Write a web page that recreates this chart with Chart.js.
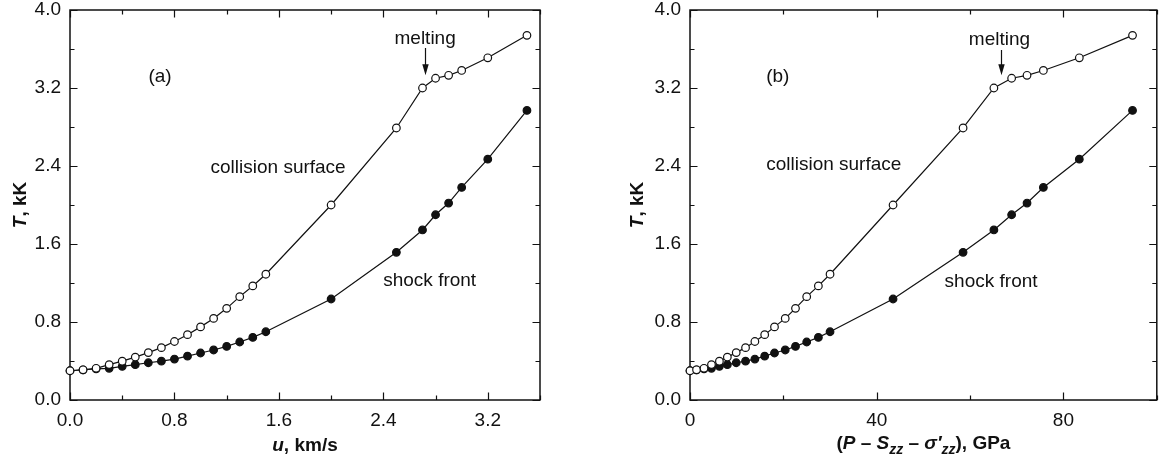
<!DOCTYPE html>
<html>
<head>
<meta charset="utf-8">
<script src="https://cdn.jsdelivr.net/npm/chart.js@4.4.1/dist/chart.umd.min.js"></script>
<style>
  html, body { margin: 0; padding: 0; background: #fff; }
  #wrap { width: 1162px; height: 465px; display: flex; }
  canvas { display: block; }
</style>
</head>
<body>
<div id="wrap">
  <canvas id="panelA" width="581" height="465"></canvas>
  <canvas id="panelB" width="581" height="465"></canvas>
</div>
<script>
/* ── data ── */

// particle velocity, km/s
const uVelocity = [0, 0.1, 0.2, 0.3, 0.4, 0.5, 0.6, 0.7, 0.8, 0.9, 1.0, 1.1, 1.2, 1.3, 1.4, 1.5,
                   2.0, 2.5, 2.7, 2.8, 2.9, 3.0, 3.2, 3.5];
// P - Szz - σ'zz, GPa
const stressGPa = [0, 1.4, 3.0, 4.6, 6.3, 8.0, 9.9, 11.9, 13.9, 16.0, 18.1, 20.4, 22.6, 25.0, 27.5, 30.0,
                   43.5, 58.5, 65.1, 68.9, 72.2, 75.7, 83.4, 94.8];
// temperature, kK
const tCollision = [0.30, 0.31, 0.325, 0.363, 0.398, 0.44, 0.486, 0.537, 0.60, 0.67, 0.75, 0.837, 0.94, 1.06, 1.17, 1.29,
                    2.00, 2.79, 3.20, 3.30, 3.33, 3.38, 3.51, 3.74];
const tShock     = [0.30, 0.31, 0.32, 0.325, 0.345, 0.362, 0.382, 0.398, 0.42, 0.45, 0.482, 0.513, 0.55, 0.595, 0.642, 0.70,
                    1.036, 1.515, 1.744, 1.90, 2.02, 2.18, 2.47, 2.97];

// labelled tick values
const tTickLabels = [0, 0.8, 1.6, 2.4, 3.2, 4.0];
const uTickLabels = [0, 0.8, 1.6, 2.4, 3.2];
const pTickLabels = [0, 40, 80];

/* ── helpers ── */

const FONT = '"Liberation Sans", Arial, Helvetica, sans-serif';
const INK  = '#111';
const TEXT_SIZE = 19;

const onList = (v, list) => list.some(t => Math.abs(t - v) < 1e-6);

// draws a run of bold text pieces (italic / subscript allowed), centred on 0,0
function drawRich(ctx, parts, size) {
    let w = 0;
    const items = parts.map(p => {
        const fs   = p.sub ? Math.round(size * 0.72) : size;
        const font = `${p.italic ? 'italic ' : ''}bold ${fs}px ${FONT}`;
        ctx.font = font;
        const it = { t: p.t, font, x: w, dy: p.sub ? size * 0.3 : 0 };
        w += ctx.measureText(p.t).width;
        return it;
    });
    ctx.textAlign = 'left';
    ctx.textBaseline = 'middle';
    items.forEach(it => { ctx.font = it.font; ctx.fillText(it.t, it.x - w / 2, it.dy); });
}

/* ── box frame, inward ticks, axis titles, notes ── */

const figureDecor = {
    id: 'figureDecor',
    beforeDatasetsDraw(chart, args, o) {
        const { ctx, chartArea: a, scales: { x, y } } = chart;
        ctx.save();
        ctx.strokeStyle = INK;
        ctx.lineWidth = 1.5;
        ctx.strokeRect(a.left, a.top, a.right - a.left, a.bottom - a.top);

        ctx.lineWidth = 1.2;
        ctx.beginPath();
        x.ticks.forEach(t => {
            const px = Math.round(x.getPixelForValue(t.value)) + 0.5;
            const len = onList(t.value, o.xLabels) ? 7.5 : 4.5;
            ctx.moveTo(px, a.bottom); ctx.lineTo(px, a.bottom - len);
            ctx.moveTo(px, a.top);    ctx.lineTo(px, a.top + len);
        });
        y.ticks.forEach(t => {
            const py = Math.round(y.getPixelForValue(t.value)) + 0.5;
            const len = onList(t.value, tTickLabels) ? 7.5 : 4.5;
            ctx.moveTo(a.left, py);  ctx.lineTo(a.left + len, py);
            ctx.moveTo(a.right, py); ctx.lineTo(a.right - len, py);
        });
        ctx.stroke();
        ctx.restore();
    },
    afterDatasetsDraw(chart, args, o) {
        const { ctx, chartArea: a, scales: { x, y } } = chart;
        ctx.save();
        ctx.fillStyle = INK;
        ctx.strokeStyle = INK;

        // axis titles
        ctx.save();
        ctx.translate((a.left + a.right) / 2, o.xTitleY);
        drawRich(ctx, o.xTitle, TEXT_SIZE);
        ctx.restore();

        ctx.save();
        ctx.translate(o.yTitleX, (a.top + a.bottom) / 2);
        ctx.rotate(-Math.PI / 2);
        drawRich(ctx, [{ t: 'T', italic: true }, { t: ', kK' }], TEXT_SIZE);
        ctx.restore();

        // notes inside the plot
        ctx.font = `${TEXT_SIZE}px ${FONT}`;
        ctx.textAlign = 'center';
        ctx.textBaseline = 'middle';
        o.notes.forEach(n => ctx.fillText(n.text, x.getPixelForValue(n.x), y.getPixelForValue(n.y)));

        // melting arrow
        const m  = o.arrow;
        const ax = Math.round(x.getPixelForValue(m.x)) + 0.5;
        const y0 = y.getPixelForValue(m.from);
        const y1 = y.getPixelForValue(m.to);
        ctx.lineWidth = 1.2;
        ctx.beginPath();
        ctx.moveTo(ax, y0);
        ctx.lineTo(ax, y1 - 10);
        ctx.stroke();
        ctx.beginPath();
        ctx.moveTo(ax - 3.2, y1 - 11);
        ctx.lineTo(ax + 3.2, y1 - 11);
        ctx.lineTo(ax, y1);
        ctx.closePath();
        ctx.fill();
        ctx.restore();
    },
};

function tickFont() { return { family: FONT, size: TEXT_SIZE }; }

function makePanel(id, xs, xMax, xStep, xLabels, xFmt, yWidth, padRight, decor) {
    const series = (ts, fill) => ({
        data: xs.map((x, i) => ({ x, y: ts[i] })),
        borderColor: INK,
        borderWidth: 1.2,
        tension: 0,
        pointRadius: 3.8,
        pointBorderWidth: 1.2,
        pointBorderColor: INK,
        pointBackgroundColor: fill,
        clip: false,
    });

    return new Chart(document.getElementById(id), {
        type: 'line',
        data: {
            datasets: [
                { label: 'collision surface', ...series(tCollision, '#fff') },
                { label: 'shock front',       ...series(tShock, INK) },
            ],
        },
        options: {
            responsive: false,
            animation: false,
            events: [],
            layout: { padding: { top: 10, right: padRight, left: 0, bottom: 0 } },
            scales: {
                x: {
                    type: 'linear', min: 0, max: xMax,
                    afterFit: s => { s.height = 65; s.paddingLeft = 0; s.paddingRight = 0; },
                    border: { display: false },
                    grid: { display: false, drawTicks: false },
                    ticks: {
                        stepSize: xStep, autoSkip: false, maxRotation: 0, padding: 9,
                        color: INK, font: tickFont(),
                        callback: v => onList(v, xLabels) ? xFmt(v) : '',
                    },
                },
                y: {
                    min: 0, max: 4,
                    afterFit: s => { s.width = yWidth; s.paddingTop = 0; s.paddingBottom = 0; },
                    border: { display: false },
                    grid: { display: false, drawTicks: false },
                    ticks: {
                        stepSize: 0.4, autoSkip: false, padding: 9,
                        color: INK, font: tickFont(),
                        callback: v => onList(v, tTickLabels) ? v.toFixed(1) : '',
                    },
                },
            },
            plugins: {
                legend:  { display: false },
                tooltip: { enabled: false },
                figureDecor: { xLabels, ...decor },
            },
        },
        plugins: [figureDecor],
    });
}

makePanel('panelA', uVelocity, 3.6, 0.4, uTickLabels, v => v.toFixed(1), 70, 41, {
    xTitleY: 446,
    yTitleX: 21,
    xTitle: [{ t: 'u', italic: true }, { t: ', km/s' }],
    notes: [
        { text: '(a)',               x: 0.69,  y: 3.32 },
        { text: 'collision surface', x: 1.594, y: 2.38 },
        { text: 'shock front',       x: 2.755, y: 1.22 },
        { text: 'melting',           x: 2.72,  y: 3.71 },
    ],
    arrow: { x: 2.72, from: 3.61, to: 3.33 },
});

makePanel('panelB', stressGPa, 100, 20, pTickLabels, v => String(v), 109, 5, {
    xTitleY: 444,
    yTitleX: 57,
    xTitle: [
        { t: '(' }, { t: 'P', italic: true }, { t: ' – ' },
        { t: 'S', italic: true }, { t: 'zz', italic: true, sub: true }, { t: ' – ' },
        { t: 'σ′', italic: true }, { t: 'zz', italic: true, sub: true }, { t: '), GPa' },
    ],
    notes: [
        { text: '(b)',               x: 18.8, y: 3.32 },
        { text: 'collision surface', x: 30.8, y: 2.41 },
        { text: 'shock front',       x: 64.5, y: 1.21 },
        { text: 'melting',           x: 66.3, y: 3.69 },
    ],
    arrow: { x: 66.7, from: 3.59, to: 3.33 },
});
</script>
</body>
</html>
